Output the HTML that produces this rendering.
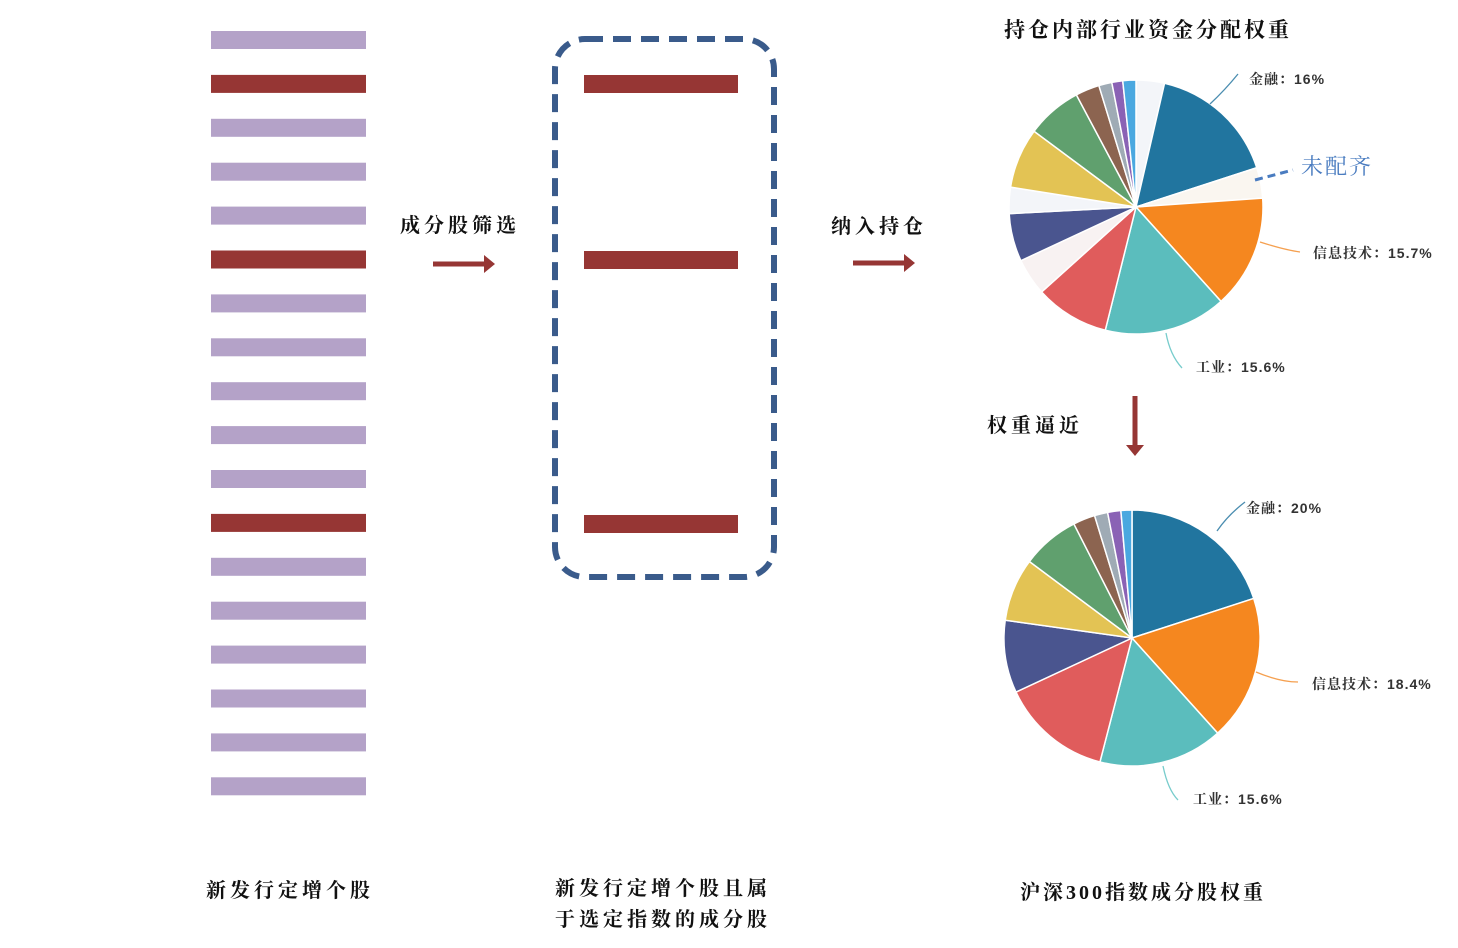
<!DOCTYPE html>
<html><head><meta charset="utf-8"><style>
body{margin:0;background:#fff;width:1458px;height:948px;overflow:hidden;position:relative;font-family:"Liberation Serif","Noto Serif CJK SC",serif;}
.t{position:absolute;white-space:nowrap;color:#111;font-weight:bold;}
.s{font-family:"Liberation Sans","Noto Serif CJK SC",sans-serif;letter-spacing:1px;}
</style></head><body>
<svg width="1458" height="948" style="position:absolute;left:0;top:0">
<g id="bars"></g>
<rect x="555" y="39" width="219" height="538" rx="30" fill="none" stroke="#3a5b8b" stroke-width="6" stroke-dasharray="18 10"/>
<rect x="584" y="75" width="154" height="18" fill="#963634"/>
<rect x="584" y="251" width="154" height="18" fill="#963634"/>
<rect x="584" y="515" width="154" height="18" fill="#963634"/>
<g fill="#963634" stroke="#963634">
<line x1="433" y1="264" x2="485" y2="264" stroke-width="5"/><polygon points="484,255 495,264 484,273" stroke="none"/>
<line x1="853" y1="263" x2="905" y2="263" stroke-width="5"/><polygon points="904,254 915,263 904,272" stroke="none"/>
<line x1="1135" y1="396" x2="1135" y2="446" stroke-width="5"/><polygon points="1126,445 1135,456 1144,445" stroke="none"/>
</g>
<g id="p1"></g><g id="p2"></g>
<g fill="none" stroke-width="1.3">
<path d="M1210,104 Q1225,90 1238,74" stroke="#4a8db0"/>
<path d="M1260,242 Q1285,250 1300,252" stroke="#f5a050"/>
<path d="M1166,333 Q1170,355 1182,368" stroke="#7cc"/>
<path d="M1217,531 Q1228,515 1245,502" stroke="#4a8db0"/>
<path d="M1256,672 Q1280,682 1298,682" stroke="#f5a050"/>
<path d="M1163,766 Q1168,790 1178,800" stroke="#7cc"/>
<line x1="1255" y1="180" x2="1293" y2="170" stroke="#4a7cc0" stroke-width="3" stroke-dasharray="8 5"/>
</g>
</svg>
<div class="t" style="left:400px;top:209px;font-size:20px;letter-spacing:4px">成分股筛选</div>
<div class="t" style="left:831px;top:210px;font-size:20px;letter-spacing:4px">纳入持仓</div>
<div class="t" style="left:1004px;top:14px;font-size:21px;letter-spacing:3px">持仓内部行业资金分配权重</div>
<div class="t" style="left:987px;top:409px;font-size:20px;letter-spacing:4px">权重逼近</div>
<div class="t" style="left:1301px;top:150px;font-size:22px;color:#4a7cc0;font-weight:normal;letter-spacing:2px">未配齐</div>
<div class="t s" style="left:1249px;top:69px;font-size:14px;color:#333">金融：16%</div>
<div class="t s" style="left:1313px;top:243px;font-size:14px;color:#333">信息技术：15.7%</div>
<div class="t s" style="left:1196px;top:357px;font-size:14px;color:#333">工业：15.6%</div>
<div class="t s" style="left:1246px;top:498px;font-size:14px;color:#333">金融：20%</div>
<div class="t s" style="left:1312px;top:674px;font-size:14px;color:#333">信息技术：18.4%</div>
<div class="t s" style="left:1193px;top:789px;font-size:14px;color:#333">工业：15.6%</div>
<div class="t" style="left:206px;top:874px;font-size:20px;letter-spacing:4px">新发行定增个股</div>
<div class="t" style="left:555px;top:874px;font-size:20px;line-height:31px;letter-spacing:4px">新发行定增个股且属<br>于选定指数的成分股</div>
<div class="t" style="left:1020px;top:876px;font-size:20px;letter-spacing:3px">沪深300指数成分股权重</div>
<script>
var NS="http://www.w3.org/2000/svg";
var g=document.getElementById("bars");
var reds=[1,5,11];
for(var i=0;i<18;i++){var y=31+i*43.9;var r=document.createElementNS(NS,"rect");
r.setAttribute("x",211);r.setAttribute("y",y);r.setAttribute("width",155);r.setAttribute("height",18);
r.setAttribute("fill",reds.indexOf(i)>=0?"#963634":"#b4a2c8");g.appendChild(r);}
function pie(id,cx,cy,R,sl){var gg=document.getElementById(id);
for(var k=1;k<sl.length;k++){var a=sl[k-1][0],b=sl[k][0];var col=sl[k][1];
var s=a*Math.PI/180,e=b*Math.PI/180;
var x1=cx+R*Math.sin(s),y1=cy-R*Math.cos(s),x2=cx+R*Math.sin(e),y2=cy-R*Math.cos(e);
var p=document.createElementNS(NS,"path");
p.setAttribute("d","M"+cx+","+cy+"L"+x1+","+y1+"A"+R+","+R+" 0 "+((b-a)>180?1:0)+" 1 "+x2+","+y2+"Z");
p.setAttribute("fill",col);p.setAttribute("stroke","#fff");p.setAttribute("stroke-width","1.5");gg.appendChild(p);}}
var W="#f3f5f9";
pie("p1",1136,207,127,[[0],[13,W],[72,"#21759f"],[86,"#faf6f0"],[138,"#f5871f"],[194,"#5bbdbd"],[228,"#e05c5c"],[245,"#f8f2f2"],[267,"#4a558f"],[279,W],[306.6,"#e3c354"],[332,"#60a06e"],[343,"#8c6450"],[349,"#9fabb5"],[354,"#8a62b5"],[360,"#4aa8e0"]]);
pie("p2",1132,638,128,[[0],[72,"#21759f"],[138,"#f5871f"],[194.5,"#5bbdbd"],[245,"#e05c5c"],[278,"#4a558f"],[306.7,"#e3c354"],[333,"#60a06e"],[343,"#8c6450"],[349,"#9fabb5"],[355,"#8a62b5"],[360,"#4aa8e0"]]);
</script>
</body></html>
